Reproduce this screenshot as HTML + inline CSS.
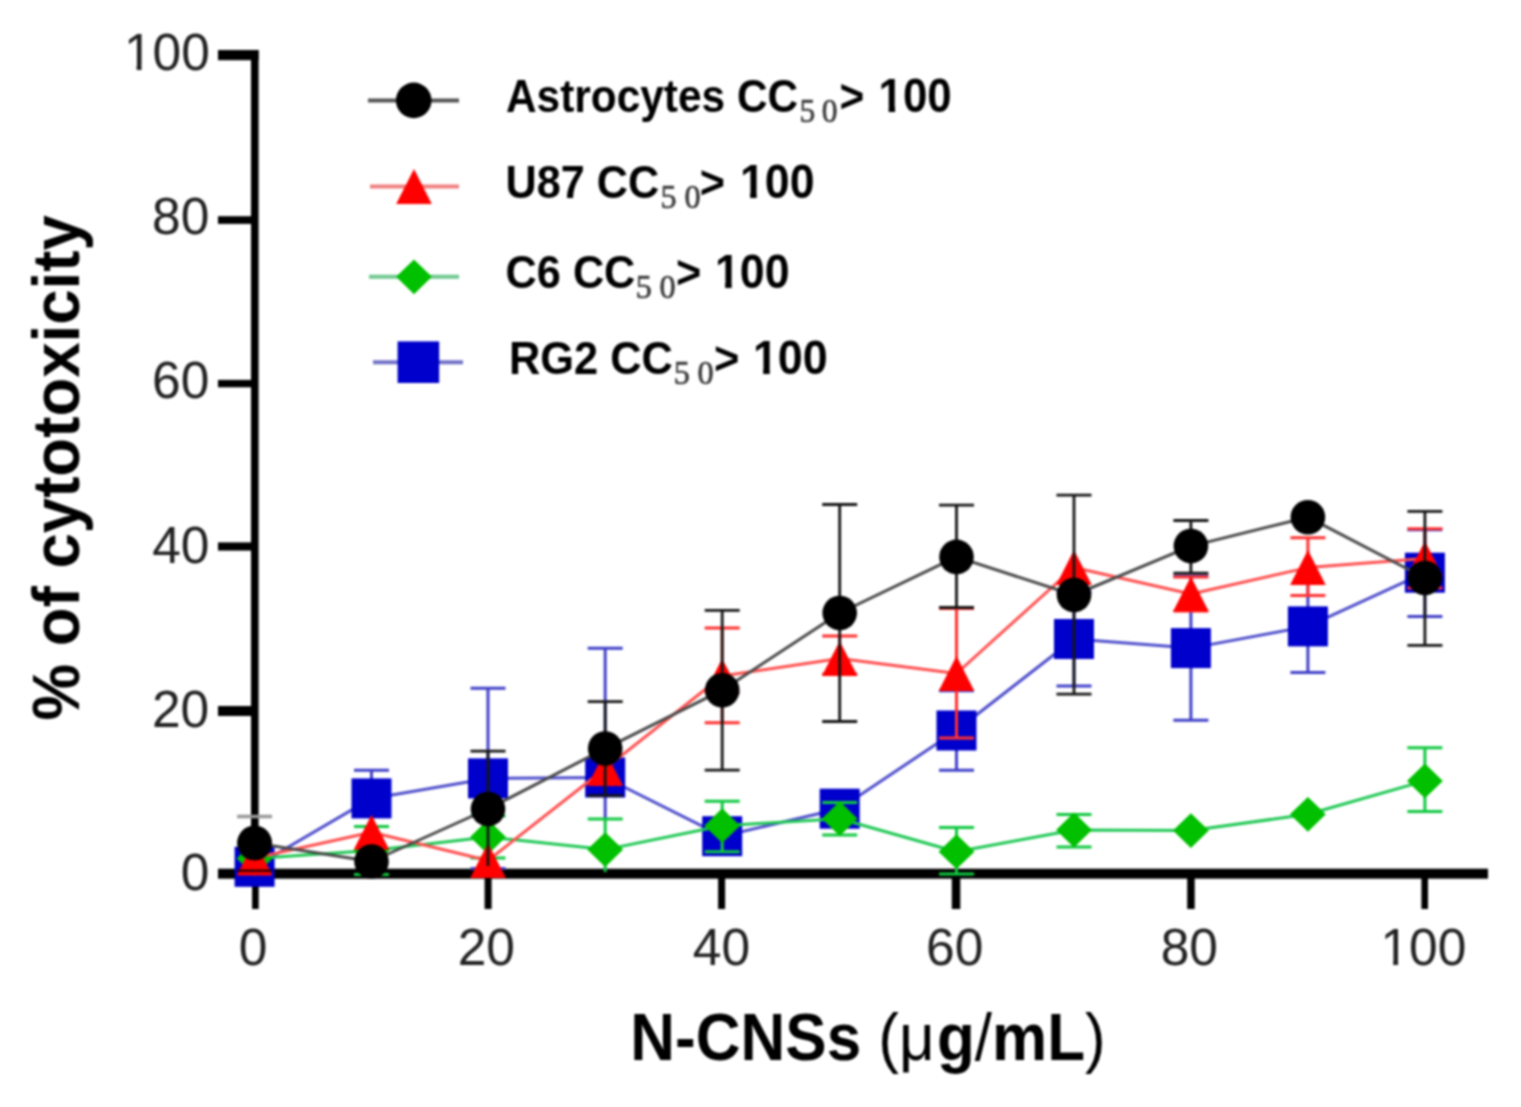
<!DOCTYPE html>
<html><head><meta charset="utf-8"><title>Cytotoxicity chart</title>
<style>html,body{margin:0;padding:0;background:#fff;} svg{display:block;filter:blur(1px);}</style></head>
<body><svg width="1521" height="1107" viewBox="0 0 1521 1107">
<rect width="1521" height="1107" fill="#fff"/>
<g fill="#000">
<rect x="251" y="50" width="7.6" height="825"/>
<rect x="218" y="50" width="40.6" height="10.2"/>
<rect x="218" y="216.2" width="38" height="7.7"/>
<rect x="218" y="379.9" width="38" height="7.4"/>
<rect x="218" y="542.4" width="38" height="8.2"/>
<rect x="218" y="706.0" width="38" height="10"/>
<rect x="218" y="868.7" width="1270" height="10"/>
<rect x="252.1" y="870" width="6.6" height="39"/>
<rect x="484.6" y="870" width="7" height="39"/>
<rect x="718.1" y="870" width="7" height="39"/>
<rect x="951.8" y="870" width="8.5" height="39"/>
<rect x="1187.2" y="870" width="7.5" height="39"/>
<rect x="1421.4" y="870" width="6.6" height="39"/>
</g>
<defs><clipPath id="c100e" clipPathUnits="userSpaceOnUse"><rect x="-95.90" y="-60" width="105.90" height="55.55"/><rect x="-73.15" y="-4.5" width="4.9" height="10"/><rect x="-57.27" y="-4.5" width="85.90" height="10"/></clipPath><clipPath id="c100m" clipPathUnits="userSpaceOnUse"><rect x="-52.95" y="-60" width="105.90" height="55.55"/><rect x="-30.20" y="-4.5" width="4.9" height="10"/><rect x="-14.32" y="-4.5" width="85.90" height="10"/></clipPath></defs>
<text transform="translate(209.8,69.8) scale(1,1.01)" font-family="Liberation Sans, sans-serif" font-size="51.5" fill="#222" text-anchor="end" clip-path="url(#c100e)">100</text>
<text transform="translate(209.3,234.0) scale(1,1.01)" font-family="Liberation Sans, sans-serif" font-size="51.5" fill="#222" text-anchor="end">80</text>
<text transform="translate(209.3,398.3) scale(1,1.01)" font-family="Liberation Sans, sans-serif" font-size="51.5" fill="#222" text-anchor="end">60</text>
<text transform="translate(209.5,563.3) scale(1,1.01)" font-family="Liberation Sans, sans-serif" font-size="51.5" fill="#222" text-anchor="end">40</text>
<text transform="translate(209.2,726.7) scale(1,1.01)" font-family="Liberation Sans, sans-serif" font-size="51.5" fill="#222" text-anchor="end">20</text>
<text transform="translate(209.5,889.5) scale(1,1.01)" font-family="Liberation Sans, sans-serif" font-size="51.5" fill="#222" text-anchor="end">0</text>
<text transform="translate(253.0,965.0) scale(1,1.01)" font-family="Liberation Sans, sans-serif" font-size="51.5" fill="#222" text-anchor="middle">0</text>
<text transform="translate(486.3,965.0) scale(1,1.01)" font-family="Liberation Sans, sans-serif" font-size="51.5" fill="#222" text-anchor="middle">20</text>
<text transform="translate(721.4,965.0) scale(1,1.01)" font-family="Liberation Sans, sans-serif" font-size="51.5" fill="#222" text-anchor="middle">40</text>
<text transform="translate(954.7,965.0) scale(1,1.01)" font-family="Liberation Sans, sans-serif" font-size="51.5" fill="#222" text-anchor="middle">60</text>
<text transform="translate(1189.3,965.0) scale(1,1.01)" font-family="Liberation Sans, sans-serif" font-size="51.5" fill="#222" text-anchor="middle">80</text>
<text transform="translate(1423.4,965.0) scale(1,1.01)" font-family="Liberation Sans, sans-serif" font-size="51.5" fill="#222" text-anchor="middle" clip-path="url(#c100m)">100</text>
<text transform="translate(868,1059.7) scale(1,1.09)" font-family="Liberation Sans, sans-serif" font-weight="bold" font-size="62" text-anchor="middle" fill="#000">N-CNSs <tspan font-weight="normal">(μ</tspan><tspan dx="2.2">g</tspan><tspan font-weight="normal">/</tspan>mL<tspan font-weight="normal">)</tspan></text>
<text transform="translate(78.5,467.8) rotate(-90) scale(1,1.05)" font-family="Liberation Sans, sans-serif" font-weight="bold" font-size="63.6" text-anchor="middle" fill="#000">% of cytotoxicity</text>
<polyline points="254.6,866.8 371.5,798.4 488.0,778.4 605.2,777.5 722.2,836.2 839.7,808.7 956.5,730.5 1074.0,639.0 1190.9,648.1 1307.9,626.4 1424.9,572.7" fill="none" stroke="#5050cc" stroke-width="3" stroke-linejoin="round"/>
<path d="M371.5,770.2V826.6M354.0,770.2H389.0M354.0,826.6H389.0" stroke="#4040c8" stroke-width="3" fill="none"/>
<path d="M488.0,688.3V868.5M470.5,688.3H505.5M470.5,868.5H505.5" stroke="#4040c8" stroke-width="3" fill="none"/>
<path d="M605.2,648.3V818.0M587.7,648.3H622.7" stroke="#4040c8" stroke-width="3" fill="none"/>
<path d="M956.5,690.7V770.3M939.0,690.7H974.0M939.0,770.3H974.0" stroke="#4040c8" stroke-width="3" fill="none"/>
<path d="M1074.0,592.0V686.1M1056.5,592.0H1091.5M1056.5,686.1H1091.5" stroke="#4040c8" stroke-width="3" fill="none"/>
<path d="M1190.9,576.0V720.3M1173.4,576.0H1208.4M1173.4,720.3H1208.4" stroke="#4040c8" stroke-width="3" fill="none"/>
<path d="M1307.9,580.0V672.6M1290.4,672.6H1325.4" stroke="#4040c8" stroke-width="3" fill="none"/>
<path d="M1424.9,529.7V616.5M1407.4,529.7H1442.4M1407.4,616.5H1442.4" stroke="#4040c8" stroke-width="3" fill="none"/>
<rect x="234.6" y="846.8" width="40" height="40" fill="#0000cc"/>
<rect x="351.5" y="778.4" width="40" height="40" fill="#0000cc"/>
<rect x="468.0" y="758.4" width="40" height="40" fill="#0000cc"/>
<rect x="585.2" y="757.5" width="40" height="40" fill="#0000cc"/>
<rect x="702.2" y="816.2" width="40" height="40" fill="#0000cc"/>
<rect x="819.7" y="788.7" width="40" height="40" fill="#0000cc"/>
<rect x="936.5" y="710.5" width="40" height="40" fill="#0000cc"/>
<rect x="1054.0" y="619.0" width="40" height="40" fill="#0000cc"/>
<rect x="1170.9" y="628.1" width="40" height="40" fill="#0000cc"/>
<rect x="1287.9" y="606.4" width="40" height="40" fill="#0000cc"/>
<rect x="1404.9" y="552.7" width="40" height="40" fill="#0000cc"/>
<polyline points="254.6,858.5 371.5,850.5 488.0,837.0 605.2,849.6 722.2,825.7 839.7,818.7 956.5,851.7 1074.0,830.0 1190.9,830.6 1307.9,814.3 1424.9,780.9" fill="none" stroke="#20c855" stroke-width="3" stroke-linejoin="round"/>
<path d="M371.5,826.5V874.6M354.0,826.5H389.0M354.0,874.6H389.0" stroke="#10c840" stroke-width="3" fill="none"/>
<path d="M488.0,816.0V857.9M470.5,816.0H505.5M470.5,857.9H505.5" stroke="#10c840" stroke-width="3" fill="none"/>
<path d="M605.2,819.1V872.0M587.7,819.1H622.7" stroke="#10c840" stroke-width="3" fill="none"/>
<path d="M722.2,801.2V851.8M704.7,801.2H739.7M704.7,851.8H739.7" stroke="#10c840" stroke-width="3" fill="none"/>
<path d="M839.7,802.5V835.0M822.2,802.5H857.2M822.2,835.0H857.2" stroke="#10c840" stroke-width="3" fill="none"/>
<path d="M956.5,827.4V874.1M939.0,827.4H974.0M939.0,874.1H974.0" stroke="#10c840" stroke-width="3" fill="none"/>
<path d="M1074.0,814.5V847.0M1056.5,814.5H1091.5M1056.5,847.0H1091.5" stroke="#10c840" stroke-width="3" fill="none"/>
<path d="M1424.9,747.7V811.6M1407.4,747.7H1442.4M1407.4,811.6H1442.4" stroke="#10c840" stroke-width="3" fill="none"/>
<path d="M254.6,841.1L272.5,858.5L254.6,875.9L236.7,858.5Z" fill="#00c000"/>
<path d="M371.5,833.1L389.4,850.5L371.5,867.9L353.6,850.5Z" fill="#00c000"/>
<path d="M488.0,819.6L505.9,837.0L488.0,854.4L470.1,837.0Z" fill="#00c000"/>
<path d="M605.2,832.2L623.1,849.6L605.2,867.0L587.3,849.6Z" fill="#00c000"/>
<path d="M722.2,808.3L740.1,825.7L722.2,843.1L704.3,825.7Z" fill="#00c000"/>
<path d="M839.7,801.3L857.6,818.7L839.7,836.1L821.8,818.7Z" fill="#00c000"/>
<path d="M956.5,834.3L974.4,851.7L956.5,869.1L938.6,851.7Z" fill="#00c000"/>
<path d="M1074.0,812.6L1091.9,830.0L1074.0,847.4L1056.1,830.0Z" fill="#00c000"/>
<path d="M1190.9,813.2L1208.8,830.6L1190.9,848.0L1173.0,830.6Z" fill="#00c000"/>
<path d="M1307.9,796.9L1325.8,814.3L1307.9,831.7L1290.0,814.3Z" fill="#00c000"/>
<path d="M1424.9,763.5L1442.8,780.9L1424.9,798.3L1407.0,780.9Z" fill="#00c000"/>
<polyline points="254.6,858.0 371.5,832.3 488.0,860.5 605.2,768.5 722.2,676.0 839.7,658.4 956.5,673.5 1074.0,567.5 1190.9,594.0 1307.9,567.6 1424.9,558.5" fill="none" stroke="#ff5050" stroke-width="3" stroke-linejoin="round"/>
<path d="M722.2,627.9V722.8M704.7,627.9H739.7M704.7,722.8H739.7" stroke="#ff3030" stroke-width="3" fill="none"/>
<path d="M839.7,636.0V674.0M822.2,636.0H857.2M822.2,674.0H857.2" stroke="#ff3030" stroke-width="3" fill="none"/>
<path d="M956.5,608.5V738.0M939.0,608.5H974.0M939.0,738.0H974.0" stroke="#ff3030" stroke-width="3" fill="none"/>
<path d="M1190.9,576.9V611.0M1173.4,576.9H1208.4M1173.4,611.0H1208.4" stroke="#ff3030" stroke-width="3" fill="none"/>
<path d="M1307.9,537.8V595.6M1290.4,537.8H1325.4M1290.4,595.6H1325.4" stroke="#ff3030" stroke-width="3" fill="none"/>
<path d="M1424.9,528.7V588.0M1407.4,528.7H1442.4M1407.4,588.0H1442.4" stroke="#ff3030" stroke-width="3" fill="none"/>
<path d="M254.6,840.5L272.4,875.5L236.8,875.5Z" fill="#ff0000"/>
<path d="M371.5,814.8L389.3,849.8L353.7,849.8Z" fill="#ff0000"/>
<path d="M488.0,843.0L505.8,878.0L470.2,878.0Z" fill="#ff0000"/>
<path d="M605.2,751.0L623.0,786.0L587.4,786.0Z" fill="#ff0000"/>
<path d="M722.2,658.5L740.0,693.5L704.4,693.5Z" fill="#ff0000"/>
<path d="M839.7,640.9L857.5,675.9L821.9,675.9Z" fill="#ff0000"/>
<path d="M956.5,656.0L974.3,691.0L938.7,691.0Z" fill="#ff0000"/>
<path d="M1074.0,550.0L1091.8,585.0L1056.2,585.0Z" fill="#ff0000"/>
<path d="M1190.9,576.5L1208.7,611.5L1173.1,611.5Z" fill="#ff0000"/>
<path d="M1307.9,550.1L1325.7,585.1L1290.1,585.1Z" fill="#ff0000"/>
<path d="M1424.9,541.0L1442.7,576.0L1407.1,576.0Z" fill="#ff0000"/>
<polyline points="254.6,843.0 371.5,861.5 488.0,809.0 605.2,748.6 722.2,690.2 839.7,613.0 956.5,556.9 1074.0,595.0 1190.9,546.1 1307.9,517.2 1424.9,578.0" fill="none" stroke="#4a4a4a" stroke-width="3" stroke-linejoin="round"/>
<path d="M488.0,751.1V866.0M470.5,751.1H505.5" stroke="#151515" stroke-width="2.8" fill="none"/>
<path d="M605.2,701.6V795.6M587.7,701.6H622.7M587.7,795.6H622.7" stroke="#151515" stroke-width="2.8" fill="none"/>
<path d="M722.2,610.3V770.2M704.7,610.3H739.7M704.7,770.2H739.7" stroke="#151515" stroke-width="2.8" fill="none"/>
<path d="M839.7,504.5V721.5M822.2,504.5H857.2M822.2,721.5H857.2" stroke="#151515" stroke-width="2.8" fill="none"/>
<path d="M956.5,505.2V607.5M939.0,505.2H974.0M939.0,607.5H974.0" stroke="#151515" stroke-width="2.8" fill="none"/>
<path d="M1074.0,495.2V694.1M1056.5,495.2H1091.5M1056.5,694.1H1091.5" stroke="#151515" stroke-width="2.8" fill="none"/>
<path d="M1190.9,520.5V573.2M1173.4,520.5H1208.4M1173.4,573.2H1208.4" stroke="#151515" stroke-width="2.8" fill="none"/>
<path d="M1424.9,511.3V645.4M1407.4,511.3H1442.4M1407.4,645.4H1442.4" stroke="#151515" stroke-width="2.8" fill="none"/>
<circle cx="254.6" cy="843.0" r="17.3" fill="#000000"/>
<circle cx="371.5" cy="861.5" r="17.3" fill="#000000"/>
<circle cx="488.0" cy="809.0" r="17.3" fill="#000000"/>
<circle cx="605.2" cy="748.6" r="17.3" fill="#000000"/>
<circle cx="722.2" cy="690.2" r="17.3" fill="#000000"/>
<circle cx="839.7" cy="613.0" r="17.3" fill="#000000"/>
<circle cx="956.5" cy="556.9" r="17.3" fill="#000000"/>
<circle cx="1074.0" cy="595.0" r="17.3" fill="#000000"/>
<circle cx="1190.9" cy="546.1" r="17.3" fill="#000000"/>
<circle cx="1307.9" cy="517.2" r="17.3" fill="#000000"/>
<circle cx="1424.9" cy="578.0" r="17.3" fill="#000000"/>
<path d="M237.1,816.5H272.1" stroke="#999" stroke-width="3.5"/>
<circle cx="254.6" cy="843.0" r="17.3" fill="#000000"/>
<path d="M237.1,870.7H272.1" stroke="#300" stroke-width="2.5"/>
<line x1="368" y1="100.4" x2="459" y2="100.4" stroke="#555" stroke-width="4"/>
<circle cx="413.7" cy="100.4" r="17.8" fill="#000000"/>
<defs><clipPath id="cl0" clipPathUnits="userSpaceOnUse"><rect x="-20" y="-80" width="620" height="74.3"/><rect x="-20" y="-5.7" width="399.39" height="40"/><rect x="388.09" y="-5.7" width="6.5" height="40"/><rect x="402.59" y="-5.7" width="200" height="40"/></clipPath></defs>
<text transform="translate(506.0,112.0) scale(0.986,1.07)" font-family="Liberation Sans, sans-serif" font-weight="bold" font-size="43" fill="#000" clip-path="url(#cl0)">Astrocytes CC<tspan font-family="Liberation Serif, serif" font-weight="normal" font-size="32" fill="#3c3c3c" stroke="#3c3c3c" stroke-width="0.7" x="297.67" y="9.63">5</tspan><tspan font-family="Liberation Serif, serif" font-weight="normal" font-size="32" fill="#3c3c3c" stroke="#3c3c3c" stroke-width="0.7" x="320.28" y="9.63">0</tspan><tspan x="338.24" y="0">&gt; </tspan><tspan x="377.89" y="0" font-size="44.5">100</tspan></text>
<line x1="370" y1="186.6" x2="459" y2="186.6" stroke="#f08080" stroke-width="4"/>
<path d="M414.0,169.1L431.8,204.1L396.2,204.1Z" fill="#ff0000"/>
<defs><clipPath id="cl1" clipPathUnits="userSpaceOnUse"><rect x="-20" y="-80" width="620" height="74.3"/><rect x="-20" y="-5.7" width="254.73" height="40"/><rect x="243.43" y="-5.7" width="6.5" height="40"/><rect x="257.93" y="-5.7" width="200" height="40"/></clipPath></defs>
<text transform="translate(505.5,197.9) scale(1.005,1.07)" font-family="Liberation Sans, sans-serif" font-weight="bold" font-size="43" fill="#000" clip-path="url(#cl1)">U87 CC<tspan font-family="Liberation Serif, serif" font-weight="normal" font-size="32" fill="#3c3c3c" stroke="#3c3c3c" stroke-width="0.7" x="154.33" y="9.63">5</tspan><tspan font-family="Liberation Serif, serif" font-weight="normal" font-size="32" fill="#3c3c3c" stroke="#3c3c3c" stroke-width="0.7" x="178.01" y="9.63">0</tspan><tspan x="193.33" y="0">&gt; </tspan><tspan x="233.23" y="0" font-size="44.5">100</tspan></text>
<line x1="369" y1="276.8" x2="459" y2="276.8" stroke="#70c890" stroke-width="4"/>
<path d="M414.0,259.4L431.9,276.8L414.0,294.2L396.1,276.8Z" fill="#00c000"/>
<defs><clipPath id="cl2" clipPathUnits="userSpaceOnUse"><rect x="-20" y="-80" width="620" height="74.3"/><rect x="-20" y="-5.7" width="229.55" height="40"/><rect x="218.25" y="-5.7" width="6.5" height="40"/><rect x="232.75" y="-5.7" width="200" height="40"/></clipPath></defs>
<text transform="translate(505.6,288.0) scale(1.006,1.07)" font-family="Liberation Sans, sans-serif" font-weight="bold" font-size="43" fill="#000" clip-path="url(#cl2)">C6 CC<tspan font-family="Liberation Serif, serif" font-weight="normal" font-size="32" fill="#3c3c3c" stroke="#3c3c3c" stroke-width="0.7" x="129.32" y="9.63">5</tspan><tspan font-family="Liberation Serif, serif" font-weight="normal" font-size="32" fill="#3c3c3c" stroke="#3c3c3c" stroke-width="0.7" x="152.98" y="9.63">0</tspan><tspan x="169.28" y="0">&gt; </tspan><tspan x="208.05" y="0" font-size="44.5">100</tspan></text>
<line x1="373" y1="362.2" x2="463" y2="362.2" stroke="#7070c8" stroke-width="4"/>
<rect x="397.6" y="341.4" width="41.6" height="41.6" fill="#0000cc"/>
<defs><clipPath id="cl3" clipPathUnits="userSpaceOnUse"><rect x="-20" y="-80" width="620" height="74.3"/><rect x="-20" y="-5.7" width="263.32" height="40"/><rect x="252.02" y="-5.7" width="6.5" height="40"/><rect x="266.52" y="-5.7" width="200" height="40"/></clipPath></defs>
<text transform="translate(508.9,374.1) scale(1.009,1.07)" font-family="Liberation Sans, sans-serif" font-weight="bold" font-size="43" fill="#000" clip-path="url(#cl3)">RG2 CC<tspan font-family="Liberation Serif, serif" font-weight="normal" font-size="32" fill="#3c3c3c" stroke="#3c3c3c" stroke-width="0.7" x="163.33" y="9.63">5</tspan><tspan font-family="Liberation Serif, serif" font-weight="normal" font-size="32" fill="#3c3c3c" stroke="#3c3c3c" stroke-width="0.7" x="186.82" y="9.63">0</tspan><tspan x="203.17" y="0">&gt; </tspan><tspan x="241.82" y="0" font-size="44.5">100</tspan></text>
</svg></body></html>
